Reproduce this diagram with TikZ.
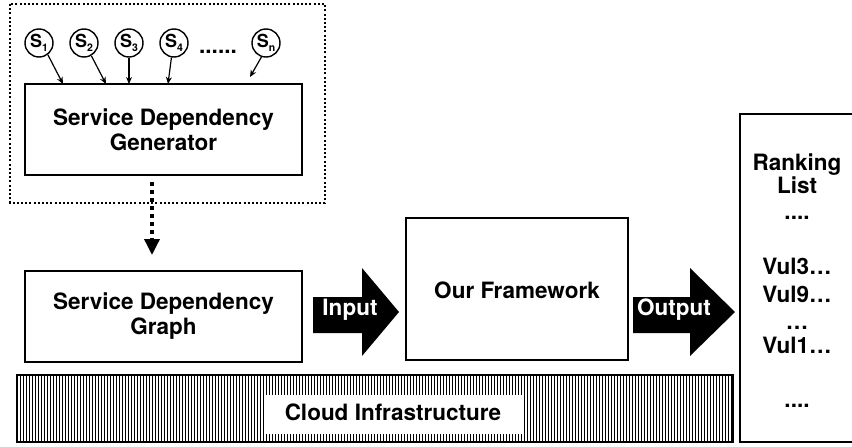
\documentclass[tikz,border=0pt]{standalone}
\usepackage{fontspec}
\setmainfont{TeX Gyre Heros}
\usetikzlibrary{arrows.meta}
\newcommand{\svclabel}[1]{S\raisebox{-0.45ex}{\fontsize{10.5}{10.5}\selectfont #1}}
\begin{document}
\begin{tikzpicture}[x=1pt,y=-1pt,
  box/.style={draw,line width=2pt,inner sep=0pt,outer sep=0pt,align=center,
    font=\fontsize{22.5}{25}\selectfont\bfseries},
  txt/.style={inner sep=0pt,font=\fontsize{22.5}{25}\selectfont\bfseries},
  svc/.style={circle,draw,line width=1.4pt,minimum size=28pt,inner sep=0pt,
    font=\fontsize{18}{18}\selectfont\bfseries},
  feed/.style={-{Stealth[length=7pt,width=6pt]},line width=1.2pt},
  bigarrow/.style={fill=black},
]
\useasboundingbox (0,0) rectangle (852,447);

% dotted frame around the generator stage
\draw[line width=2pt,dash pattern=on 2pt off 2.2pt] (10,4) rectangle (325,203);

% services
\node[svc] (s1) at (39,43) {\svclabel{1}};
\node[svc] (s2) at (84,43) {\svclabel{2}};
\node[svc] (s3) at (129,43) {\svclabel{3}};
\node[svc] (s4) at (174,43) {\svclabel{4}};
\node[svc] (sn) at (266,43) {\svclabel{n}};
\node[txt,anchor=base] (dots) at (218,53) {......};

% generator
\node[box,minimum width=277pt,minimum height=91pt] (gen) at (163.5,129.5)
  {Service Dependency\\Generator};

\draw[feed] (s1.-53) -- (63,0 |- gen.north);
\draw[feed] (s2.-60) -- (106,0 |- gen.north);
\draw[feed] (s3.-90) -- (129,0 |- gen.north);
\draw[feed] (s4.-100) -- (168,0 |- gen.north);
\coordinate (snend) at (250,77);
\draw[feed] (sn.-108) -- (snend);

% dependency graph
\node[box,minimum width=277pt,minimum height=91pt] (sdg) at (163.5,316.5)
  {Service Dependency\\Graph};
\draw[line width=3.5pt,dash pattern=on 4pt off 4pt,
  -{Triangle[length=16pt,width=15pt]},shorten <=7pt,shorten >=16pt]
  (152,0 |- gen.south) -- (152,0 |- sdg.north);

% framework
\node[box,minimum width=222pt,minimum height=142pt] (fw) at (517,289) {};
\node[txt,anchor=base] (fwt) at (fw.center |- 0,298) {Our Framework};

% input / output block arrows
\fill[bigarrow] (313,297) -- (362,297) -- (362,268) -- (399,312) -- (362,356)
  -- (362,333) -- (313,333) -- cycle;
\node[txt,anchor=base,text=white] (inp) at (350,315) {Input};
\fill[bigarrow] (633,297) -- (690,297) -- (690,268) -- (735,312) -- (690,356)
  -- (690,333) -- (633,333) -- cycle;
\node[txt,anchor=base,text=white] (outp) at (674,315) {Output};

% ranking list
\draw[line width=2pt] (860,114) -- (740,114) -- (740,442) -- (860,442);
\node[txt,anchor=base] (r1) at (797,170) {Ranking};
\node[txt,anchor=base] (r2) at (797,193) {List};
\node[txt,anchor=base] (r3) at (797,219) {....};
\node[txt,anchor=base] (r4) at (797,274) {Vul3…};
\node[txt,anchor=base] (r5) at (797,302) {Vul9…};
\node[txt,anchor=base] (r6) at (797,329) {…};
\node[txt,anchor=base] (r7) at (797,353) {Vul1…};
\node[txt,anchor=base] (r8) at (797,407) {....};

% cloud infrastructure bar
\begin{scope}
  \clip (17,375) rectangle (733,442);
  \foreach \i in {0,...,240} {
    \draw[line width=0.8pt] ({17+3*\i},375) -- ({17+3*\i},442);
  }
\end{scope}
\fill[white] (264,395) rectangle (522,434);
\draw[line width=2pt] (17,375) rectangle (733,442);
\node[txt] (cloud) at (393,412) {Cloud Infrastructure};
\end{tikzpicture}
\end{document}
